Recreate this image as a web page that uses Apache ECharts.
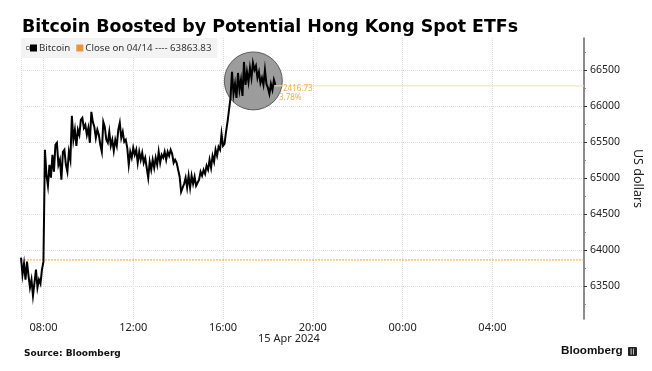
<!DOCTYPE html>
<html>
<head>
<meta charset="utf-8">
<style>html,body{margin:0;padding:0;background:#fff}#c{width:652px;height:371px}</style>
<script src="https://cdn.jsdelivr.net/npm/echarts@6/dist/echarts.min.js"></script>
</head>
<body>
<div id="c"></div>
<script>
const titleText = 'Bitcoin Boosted by Potential Hong Kong Spot ETFs';
const sourceText = 'Source: Bloomberg';
const dateText = '15 Apr 2024';
const startMinute = 420;
const stepMinutes = 4;
const prices = [63896,63659,63812,63590,63840,63646,63479,63590,63368,63548,63729,63479,63590,63534,63729,63840,
65396,65048,64896,65187,65007,65326,65090,65465,65493,65187,65257,64979,65368,65396,65187,65090,65368,65257,
65868,65535,65674,65451,65674,65604,65812,65840,65701,65743,65604,65701,65493,65924,65785,65715,65562,65674,65604,
65465,65368,65785,65715,65535,65493,65646,65451,65535,65382,65535,65451,65674,65771,65562,65646,65507,65535,65424,
65187,65368,65285,65424,65326,65396,65215,65368,65257,65354,65215,65285,65146,65007,65229,65118,65257,65146,65285,
65187,65368,65215,65326,65285,65368,65257,65368,65312,65396,65340,65215,65257,65215,65201,65021,64812,64785,64923,
65007,64868,65035,64868,65035,64923,65021,64896,64937,64979,65090,65035,65118,65062,65174,65118,65257,65146,65312,
65229,65396,65312,65437,65396,65618,65451,65479,65646,65785,65951,66118,66479,66174,66312,66118,66465,66229,66368,
66146,66618,66299,66479,66340,66535,66396,66604,66507,66563,66396,66479,66326,66396,66299,66507,66312,66257,66174,
66312,66229,66368,66299];
const seriesName = 'Bitcoin';
const closeName = 'Close on 04/14 ---- 63863.83';
const closeValue = 63863.83;
const lastValue = 66285;
const lastStartMinute = 1085;
const circleCenter = [1041, 66354];
const xMin = 420, xMax = 1925;
const yMin = 63042, yMax = 66951;
const xTicks = [480,720,960,1200,1440,1680];
const xTickLabels = {480:'08:00',720:'12:00',960:'16:00',1200:'20:00',1440:'00:00',1680:'04:00'};
const yMajor = [63500,64000,64500,65000,65500,66000,66500];
const yMinor = [63250,63750,64250,64750,65250,65750,66250,66750];

const bitcoin = prices.map((p,i)=>[startMinute+i*stepMinutes,p]);
const chart = echarts.init(document.getElementById('c'),null,{renderer:'canvas'});
const sans = '"Noto Sans"';
const gridColor = '#dcdcdc';
chart.setOption({
  animation:false,
  backgroundColor:'#fff',
  title:{text:titleText,left:22,top:19,padding:0,textStyle:{fontFamily:'DejaVu Sans',fontWeight:'bold',fontSize:17.4,color:'#000'}},
  grid:{left:21,right:65.5,top:38,bottom:52,show:false},
  legend:{
    data:[{name:seriesName,icon:'rect',itemStyle:{color:'#000'}},{name:closeName,icon:'rect',itemStyle:{color:'#e8963a'}}],
    left:21,top:38,padding:[5,6,5,9],itemWidth:7,itemHeight:7,itemGap:6,
    backgroundColor:'#f3f3f3',selectedMode:false,
    textStyle:{fontFamily:sans,fontSize:9.7,color:'#333',padding:[0,0,0,-3]}
  },
  xAxis:{type:'value',min:xMin,max:xMax,
    axisLine:{show:false},
    axisTick:{show:true,length:0,customValues:[xMin].concat(xTicks)},
    axisLabel:{show:true,customValues:xTicks,formatter:v=>xTickLabels[v],fontFamily:sans,fontSize:11,color:'#222',margin:3},
    splitLine:{show:true,lineStyle:{color:gridColor,type:[1,1],width:1}}
  },
  yAxis:[
    {type:'value',position:'right',min:yMin,max:yMax,
     name:'US dollars',nameLocation:'middle',nameRotate:-90,nameGap:37,
     nameTextStyle:{fontFamily:sans,fontSize:12.5,color:'#222'},
     axisLine:{show:true,onZero:false,lineStyle:{color:'#666',width:1.5}},
     axisTick:{show:true,length:3,inside:false,customValues:yMajor,lineStyle:{color:'#333'}},
     axisLabel:{show:true,customValues:yMajor,formatter:v=>String(v),fontFamily:sans,fontSize:10.5,color:'#222',margin:6},
     splitLine:{show:true,lineStyle:{color:gridColor,type:[1,1],width:1}}
    },
    {type:'value',position:'right',min:yMin,max:yMax,
     axisLine:{show:false},
     axisTick:{show:true,length:2,customValues:yMinor,lineStyle:{color:'#888'}},
     axisLabel:{show:false},splitLine:{show:false}
    }
  ],
  series:[
    {type:'scatter',name:'highlight',z:2,silent:true,symbolSize:58,data:[circleCenter],
     itemStyle:{color:'#9c9c9c',borderColor:'#444',borderWidth:0.8,opacity:1}},
    {type:'line',name:closeName,z:3,symbol:'none',data:[[xMin,closeValue],[xMax,closeValue]],
     lineStyle:{color:'#eda53c',width:1,type:[2,1]},itemStyle:{color:'#e8963a'}},
    {type:'line',name:'last',z:3,symbol:'none',data:[[lastStartMinute,lastValue],[xMax,lastValue]],
     lineStyle:{color:'#f7dfae',width:1}},
    {type:'line',name:seriesName,z:5,symbol:'none',data:bitcoin,
     lineStyle:{color:'#000',width:2,join:'miter'},itemStyle:{color:'#000'}}
  ],
  graphic:[
    {type:'rect',z:100,shape:{x:26.5,y:46.5,width:3,height:3},style:{fill:'#fff',stroke:'#888',lineWidth:1}},
    {type:'text',z:100,left:283,top:85,style:{text:'2416.73',fill:'#eeb055',font:'8px "Noto Sans"'}},
    {type:'text',z:100,left:279,top:94,style:{text:'3.78%',fill:'#eeb055',font:'8px "Noto Sans"'}},
    {type:'text',z:100,left:258,top:333,style:{text:dateText,fill:'#222',font:'11px "Noto Sans"'}},
    {type:'text',z:100,left:24,top:349,style:{text:sourceText,fill:'#111',font:'bold 9px "DejaVu Sans"'}},
    {type:'text',z:100,left:561,top:345,style:{text:'Bloomberg',fill:'#111',font:'bold 11.7px "Liberation Sans"'}},
    {type:'rect',z:100,shape:{x:628,y:347,width:9,height:9,r:1},style:{fill:'#222'}},
    {type:'text',z:101,left:630,top:348,style:{text:'||',fill:'#fff',font:'bold 6px "DejaVu Sans"'}}
  ]
});
</script>
</body>
</html>
